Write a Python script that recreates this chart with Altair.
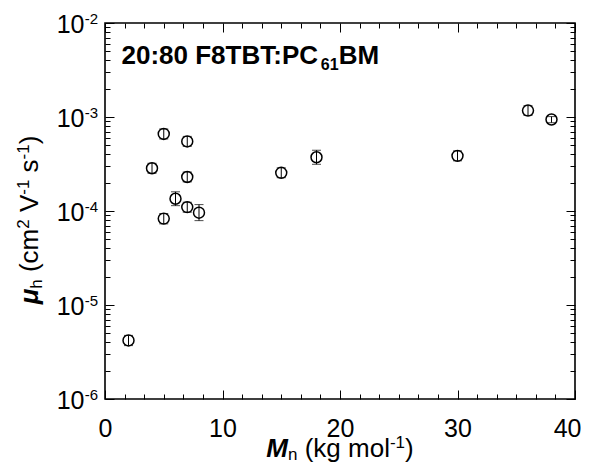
import altair as alt
import pandas as pd

# ---- data ----
Mn = [2, 4, 5, 5, 6, 7, 7, 7, 8, 15, 18, 30, 36, 38]
mu = [4.2e-6, 2.85e-4, 6.6e-4, 8.3e-5, 1.35e-4, 5.5e-4, 2.3e-4, 1.1e-4, 9.6e-5,
      2.55e-4, 3.73e-4, 3.86e-4, 1.17e-3, 9.4e-4]
mu_lo = [3.7e-6, 2.52e-4, 5.84e-4, 7.3e-5, 1.14e-4, 4.87e-4, 2.04e-4, 9.7e-5, 7.9e-5,
         2.26e-4, 3.14e-4, 3.42e-4, 1.04e-3, 8.7e-4]
mu_hi = [4.75e-6, 3.22e-4, 7.46e-4, 9.4e-5, 1.6e-4, 6.22e-4, 2.6e-4, 1.24e-4, 1.17e-4,
         2.88e-4, 4.43e-4, 4.36e-4, 1.32e-3, 1.01e-3]

x_major = [0, 10, 20, 30, 40]
x_ticks = [(k * 10) / 6 for k in range(0, 25)]
y_major = [1e-6, 1e-5, 1e-4, 1e-3, 1e-2]
y_ticks = [m * 10.0 ** e for e in range(-6, -2) for m in range(1, 10)] + [1e-2]

df = pd.DataFrame({"Mn": Mn, "mu": mu, "lo": mu_lo, "hi": mu_hi})

W, H = 470, 376
FONT = "Liberation Sans"

xs = alt.Scale(domain=[0, 40], nice=False, zero=False)
ys = alt.Scale(type="log", domain=[1e-6, 1e-2], nice=False)

x_major_test = "abs(datum.value % 10) < 0.001"
y_major_test = "abs(log(datum.value)/LN10 - round(log(datum.value)/LN10)) < 0.001"

def tick_axis(orient, offset, values, test):
    return alt.Axis(orient=orient, offset=offset, values=values, labels=False,
                    domain=False, grid=False, ticks=True, tickColor="black",
                    tickWidth=1,
                    tickSize={"condition": {"test": test, "value": 9}, "value": 5},
                    title=None)

ax_x_labels = alt.Axis(orient="bottom", values=x_major, ticks=False, tickSize=0,
                       domain=False, grid=False, labelFont=FONT, labelFontSize=25,
                       labelColor="black", labelPadding=17, labelFlush=False,
                       labelAlign={"condition": {"test": "datum.value >= 40", "value": "right"},
                                   "value": "center"},
                       labelOffset={"condition": {"test": "datum.value >= 40", "value": 6},
                                    "value": 0},
                       title=None)
ax_x_bottom = tick_axis("top", -H, x_ticks, x_major_test)
ax_x_top = tick_axis("bottom", -H, x_ticks, x_major_test)

ax_y_tens = alt.Axis(orient="left", values=y_major, ticks=False, tickSize=0,
                     domain=False, grid=False, labelFont=FONT, labelFontSize=25,
                     labelColor="black", labelPadding=21, labelAlign="right",
                     labelBaseline="middle", labelOffset=1.5, labelExpr="'10'",
                     labelFlush=False, title=None)
ax_y_exp = alt.Axis(orient="left", values=y_major, ticks=False, tickSize=0,
                    domain=False, grid=False, labelFont=FONT, labelFontSize=15,
                    labelColor="black", labelPadding=7.5, labelAlign="right",
                    labelBaseline="alphabetic", labelOffset=0,
                    labelExpr="'-' + format(-round(log(datum.value)/LN10), 'd')",
                    labelFlush=False, title=None)
ax_y_left = tick_axis("right", -W, y_ticks, y_major_test)
ax_y_right = tick_axis("left", -W, y_ticks, y_major_test)

base = alt.Chart(df)

rules = base.mark_rule(color="black", strokeWidth=1).encode(
    x=alt.X("Mn:Q", scale=xs, axis=ax_x_labels),
    y=alt.Y("lo:Q", scale=ys, axis=ax_y_tens),
    y2="hi:Q",
)
caps_lo = base.mark_tick(orient="horizontal", size=9, thickness=1, color="black").encode(
    x=alt.X("Mn:Q", scale=xs, axis=ax_x_bottom),
    y=alt.Y("lo:Q", scale=ys, axis=ax_y_exp),
)
caps_hi = base.mark_tick(orient="horizontal", size=9, thickness=1, color="black").encode(
    x=alt.X("Mn:Q", scale=xs, axis=ax_x_top),
    y=alt.Y("hi:Q", scale=ys, axis=ax_y_left),
)
points = base.mark_point(shape="circle", size=120, filled=False, color="black",
                         strokeWidth=1.5, opacity=1).encode(
    x=alt.X("Mn:Q", scale=xs, axis=None),
    y=alt.Y("mu:Q", scale=ys, axis=ax_y_right),
)

# ---- rich text helpers (Arial / Liberation Sans advance widths) ----
REG = {" ": 278, "(": 333, ")": 333, "-": 333, ":": 278, "c": 500, "m": 833, "s": 500,
       "V": 667, "h": 556, "k": 500, "g": 556, "o": 556, "l": 222, "n": 556,
       "M": 833, "\u03bc": 576}
BOLD = {" ": 278, ":": 333, "F": 611, "T": 611, "B": 722, "P": 667, "C": 722,
        "M": 833, "\u03bc": 600, "n": 611, "h": 611}
for d in "0123456789":
    REG[d] = 556
    BOLD[d] = 556

def width(s, size, bold):
    tbl = BOLD if bold else REG
    return sum(tbl.get(c, 556) for c in s) * size / 1000.0

def txt(s, x, y, size, bold=False, italic=False, angle=0):
    return alt.Chart(alt.Data(values=[{}])).mark_text(
        text=s, font=FONT, fontSize=size, fontWeight="bold" if bold else "normal",
        fontStyle="italic" if italic else "normal", align="left",
        baseline="alphabetic", angle=angle, color="black",
    ).encode(x=alt.value(x), y=alt.value(y))

def rich(pieces, x0, y0, rotated=False):
    out = []
    pos = 0.0
    for s, size, bold, italic, shift in pieces:
        lead = len(s) - len(s.lstrip(" "))
        p = pos + width(" " * lead, size, bold)
        core = s.strip(" ")
        if rotated:
            out.append(txt(core, x0 - shift, y0 - p, size, bold, italic, angle=270))
        else:
            out.append(txt(core, x0 + p, y0 - shift, size, bold, italic))
        pos += width(s, size, bold)
    return out

def total(pieces):
    return sum(width(s, size, b) for s, size, b, i, sh in pieces)

TF, SF = 26, 17
# chart label
title_pieces = [("20:80 F8TBT:PC", 26, True, False, 0), ("61", 16, True, False, -6),
                ("BM", 26, True, False, 0)]
t_title = rich(title_pieces, 16.5, 40.5)

# x title
x_pieces = [("M", TF, True, True, 0), ("n", SF, False, False, -3),
            (" (kg mol", TF, False, False, 0), ("-1", SF, False, False, 9),
            (")", TF, False, False, 0)]
xt = total(x_pieces)
t_x = rich(x_pieces, W / 2 - xt / 2, 434)

# y title (rotated)
y_pieces = [("\u03bc", TF, True, True, 0), ("h", SF, False, False, -4),
            (" (cm", TF, False, False, 0), ("2", SF, False, False, 9),
            (" V", TF, False, False, 0), ("-1", SF, False, False, 9),
            (" s", TF, False, False, 0), ("-1", SF, False, False, 9),
            (")", TF, False, False, 0)]
yt = total(y_pieces)
t_y = rich(y_pieces, -67.5, 197 + yt / 2, rotated=True)

chart = alt.layer(rules, caps_lo, caps_hi, points, *t_title, *t_x, *t_y).resolve_axis(
    x="independent", y="independent"
).properties(
    width=W, height=H,
    padding={"left": 97, "top": 15, "right": 6, "bottom": 65},
    autosize=alt.AutoSizeParams(type="none"),
).configure_view(stroke="black", strokeWidth=1.6)

chart.save("out.html", embed_options={"renderer": "svg", "actions": False})
